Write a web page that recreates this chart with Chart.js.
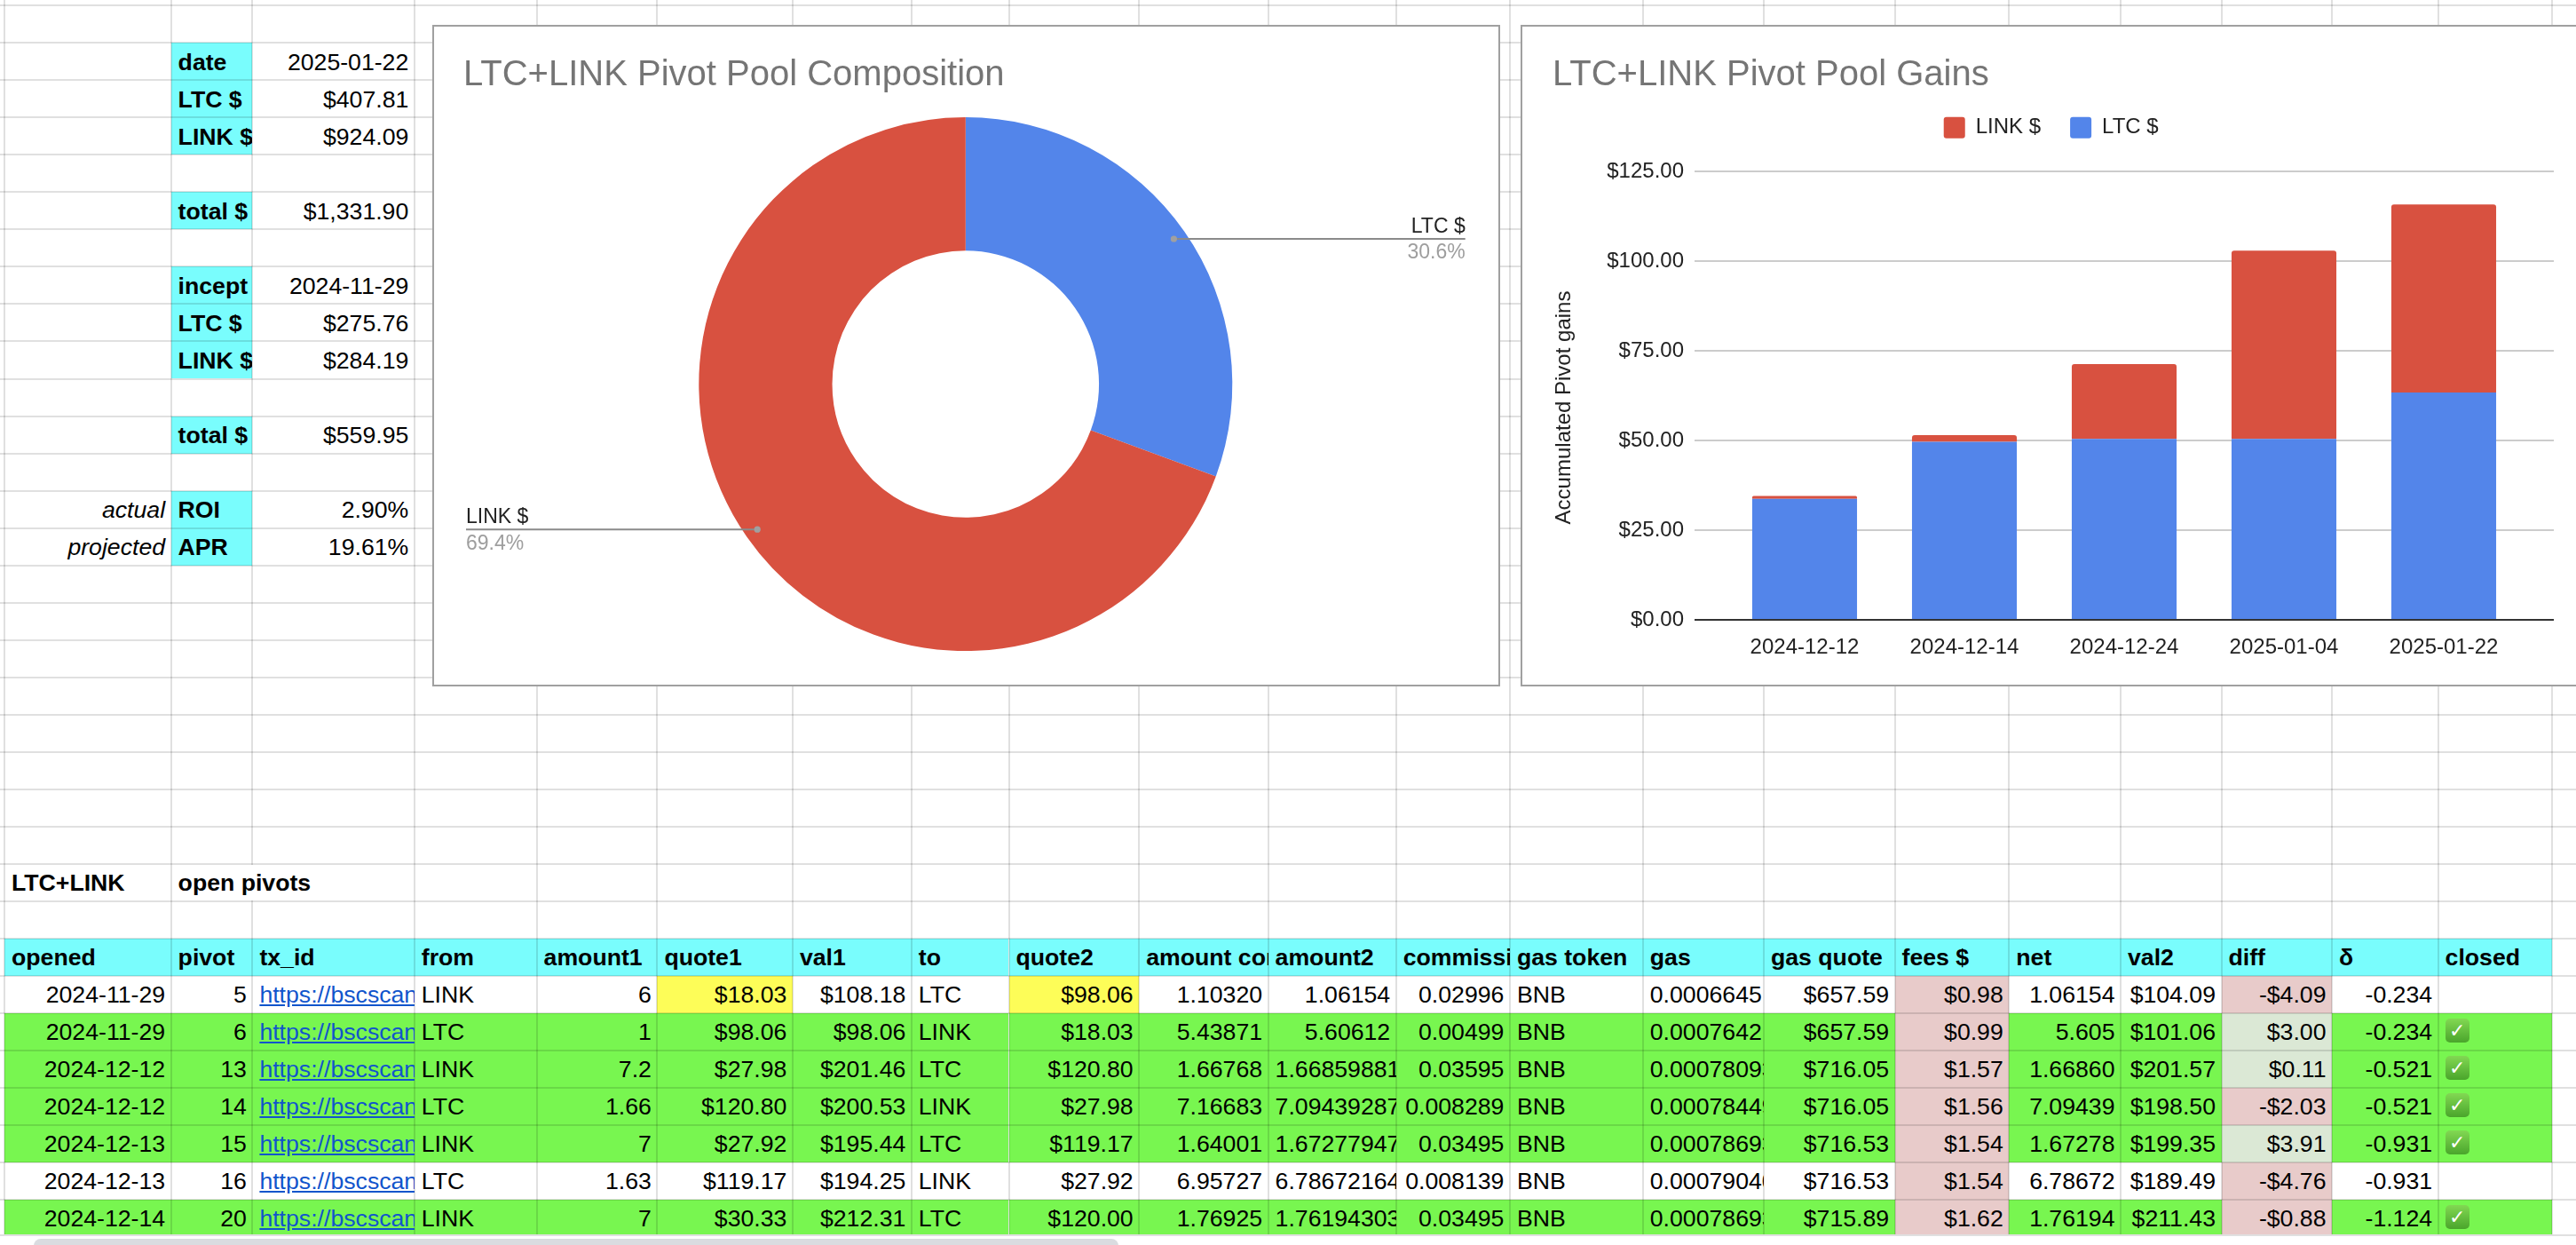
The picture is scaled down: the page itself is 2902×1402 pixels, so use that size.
<!DOCTYPE html>
<html>
<head>
<meta charset="utf-8">
<script src="https://cdn.jsdelivr.net/npm/chart.js@4.4.1/dist/chart.umd.min.js"></script>
<style>
html,body{margin:0;padding:0;background:#fff;overflow:hidden;width:2902px;height:1402px;}
#sheet{position:absolute;left:0;top:0;width:2902px;height:1402px;font-family:"Liberation Sans",Arial,sans-serif;font-size:26.67px;color:#000;}
.bg{position:absolute;}
.c{position:absolute;box-sizing:border-box;display:flex;align-items:flex-end;justify-content:flex-start;white-space:nowrap;padding:0 6.5px 7px 8px;line-height:26.67px;overflow:hidden;}
.c.r{justify-content:flex-end;}
.c.vis{overflow:visible;}
.b{font-weight:bold;}
.i{font-style:italic;}
.lnk{color:#1155cc;text-decoration:underline;}
.gl{position:absolute;background:rgba(0,0,0,0.12);}
.chk{display:inline-block;width:27px;height:27px;border-radius:5px;background:linear-gradient(#82d853,#4aa52b);color:#fff;font-family:"DejaVu Sans",sans-serif;font-size:22px;line-height:27px;text-align:center;font-weight:bold;margin-bottom:1px;}
.box{position:absolute;background:#fff;border:2px solid #a0a0a0;box-sizing:border-box;}
#bottomStrip{position:absolute;left:0;top:1390px;width:2902px;height:12px;background:#fff;border-top:2px solid #e0e0e0;box-sizing:border-box;}
#scroll{position:absolute;left:38px;top:3px;width:1222px;height:16px;border-radius:8px;background:#dadce0;}
</style>
</head>
<body>
<div id="sheet"></div>
<div class="box" id="pieBox" style="left:487px;top:28px;width:1203px;height:745px;">
  <canvas id="pieChart" width="1199" height="741"></canvas>
</div>
<div class="box" id="barBox" style="left:1713px;top:28px;width:1300px;height:745px;">
  <canvas id="barChart" width="1187" height="741"></canvas>
</div>
<div id="bottomStrip"><div id="scroll"></div></div>
<script>
// ---------------- chart data ----------------
const poolLabels = ['LTC $', 'LINK $'];
const poolValues = [407.81, 924.09];

const gainDates = ['2024-12-12', '2024-12-14', '2024-12-24', '2025-01-04', '2025-01-22'];
const ltcGains  = [33.8, 49.7, 50.5, 50.5, 63.4];
const linkGains = [0.8, 1.8, 20.8, 52.4, 52.4];
const gainTicks = [0, 25, 50, 75, 100, 125];

// ---------------- sheet content ----------------
const summaryRows = [
  [1, '', 'date', '2025-01-22'],
  [2, '', 'LTC $', '$407.81'],
  [3, '', 'LINK $', '$924.09'],
  [5, '', 'total $', '$1,331.90'],
  [7, '', 'incept', '2024-11-29'],
  [8, '', 'LTC $', '$275.76'],
  [9, '', 'LINK $', '$284.19'],
  [11, '', 'total $', '$559.95'],
  [13, 'actual', 'ROI', '2.90%'],
  [14, 'projected', 'APR', '19.61%']
];
const pivotHeaders = ['opened','pivot','tx_id','from','amount1','quote1','val1','to','quote2','amount conv','amount2','commission','gas token','gas','gas quote','fees $','net','val2','diff','δ','closed'];
const URL_TXT = 'https://bscscan.com/tx/';
const pivotRows = [
  ['2024-11-29','5',URL_TXT,'LINK','6','$18.03','$108.18','LTC','$98.06','1.10320','1.06154','0.02996','BNB','0.0006645','$657.59','$0.98','1.06154','$104.09','-$4.09','-0.234',''],
  ['2024-11-29','6',URL_TXT,'LTC','1','$98.06','$98.06','LINK','$18.03','5.43871','5.60612','0.00499','BNB','0.0007642','$657.59','$0.99','5.605','$101.06','$3.00','-0.234','✅'],
  ['2024-12-12','13',URL_TXT,'LINK','7.2','$27.98','$201.46','LTC','$120.80','1.66768','1.66859881','0.03595','BNB','0.00078093','$716.05','$1.57','1.66860','$201.57','$0.11','-0.521','✅'],
  ['2024-12-12','14',URL_TXT,'LTC','1.66','$120.80','$200.53','LINK','$27.98','7.16683','7.09439287','0.008289','BNB','0.00078449','$716.05','$1.56','7.09439','$198.50','-$2.03','-0.521','✅'],
  ['2024-12-13','15',URL_TXT,'LINK','7','$27.92','$195.44','LTC','$119.17','1.64001','1.67277947','0.03495','BNB','0.00078693','$716.53','$1.54','1.67278','$199.35','$3.91','-0.931','✅'],
  ['2024-12-13','16',URL_TXT,'LTC','1.63','$119.17','$194.25','LINK','$27.92','6.95727','6.78672164','0.008139','BNB','0.00079040','$716.53','$1.54','6.78672','$189.49','-$4.76','-0.931',''],
  ['2024-12-14','20',URL_TXT,'LINK','7','$30.33','$212.31','LTC','$120.00','1.76925','1.76194303','0.03495','BNB','0.00078693','$715.89','$1.62','1.76194','$211.43','-$0.88','-1.124','✅']
];
const textCols = [2, 3, 7, 12];

// ---------------- sheet layout ----------------
const COLX = [5,192.6,284.4,466.8,604.6,740.4,892.9,1026.8,1136.5,1283.2,1428.6,1572.7,1700.9,1850.8,1987,2134.6,2263.3,2389,2502.5,2627,2746.6,2875.3,3010];
const ROWH = 42.02;
const rowY = k => 6.3 + ROWH * k;
const CYAN = '#79fdfd', GREEN = '#78f650', YELLOW = '#fdfd58', PINK = '#e8cbca', PALEGREEN = '#dbe8d5';
const sheet = document.getElementById('sheet');

function bgCell(col, row, color) {
  const d = document.createElement('div');
  d.className = 'bg';
  d.style.left = COLX[col] + 'px';
  d.style.top = rowY(row) + 'px';
  d.style.width = (COLX[col + 1] - COLX[col]) + 'px';
  d.style.height = ROWH + 'px';
  d.style.background = color;
  sheet.appendChild(d);
}
const textCells = [];
function txtCell(col, row, text, cls) {
  textCells.push([col, row, text, cls || '']);
}

// summary block
summaryRows.forEach(([row, a, b, c]) => {
  bgCell(1, row, CYAN);
  if (a) txtCell(0, row, a, 'r i');
  txtCell(1, row, b, 'b');
  txtCell(2, row, c, 'r');
});
// pivots title
txtCell(0, 23, 'LTC+LINK', 'b');
txtCell(1, 23, 'open pivots', 'b vis');
// headers
pivotHeaders.forEach((h, i) => { bgCell(i, 25, CYAN); txtCell(i, 25, h, 'b'); });
// rows
pivotRows.forEach((r, ri) => {
  const row = 26 + ri;
  const closed = r[20] !== '';
  r.forEach((v, ci) => {
    let color = closed ? GREEN : null;
    if (ri === 0 && (ci === 5 || ci === 8)) color = YELLOW;
    if (ci === 15) color = PINK;
    if (ci === 18) color = v.startsWith('-') ? PINK : PALEGREEN;
    if (color) bgCell(ci, row, color);
    if (ci === 2) txtCell(ci, row, v, 'lnk');
    else if (ci === 20) txtCell(ci, row, v, 'chkcell');
    else txtCell(ci, row, v, textCols.includes(ci) ? '' : 'r');
  });
});

// gridlines
for (let i = 0; i < COLX.length; i++) {
  const d = document.createElement('div');
  d.className = 'gl';
  d.style.left = (COLX[i] - 1) + 'px'; d.style.top = '0px';
  d.style.width = '2px'; d.style.height = '1392px';
  sheet.appendChild(d);
}
for (let k = 0; k <= 33; k++) {
  const d = document.createElement('div');
  d.className = 'gl';
  d.style.left = '0px'; d.style.top = (rowY(k) - 1) + 'px';
  d.style.width = '2902px'; d.style.height = '2px';
  sheet.appendChild(d);
}
// overflow text hides gridline
(function(){
  const d = document.createElement('div');
  d.className = 'bg';
  d.style.left = (COLX[2] - 1.5) + 'px'; d.style.top = (rowY(23) + 1) + 'px';
  d.style.width = '3px'; d.style.height = (ROWH - 2) + 'px';
  d.style.background = '#fff';
  sheet.appendChild(d);
})();

// text
textCells.forEach(([col, row, text, cls]) => {
  const d = document.createElement('div');
  d.className = 'c ' + cls;
  d.style.left = COLX[col] + 'px';
  d.style.top = rowY(row) + 'px';
  d.style.width = (COLX[col + 1] - COLX[col]) + 'px';
  d.style.height = ROWH + 'px';
  if (cls === 'chkcell') {
    if (text) {
      const s = document.createElement('span');
      s.className = 'chk';
      s.textContent = '✓';
      s.title = text;
      d.style.paddingBottom = '7.5px';
      d.appendChild(s);
    }
  } else {
    const s = document.createElement('span');
    s.textContent = text;
    d.appendChild(s);
  }
  sheet.appendChild(d);
  if (cls.includes('r')) {
    const s = d.firstChild;
    if (s && s.offsetWidth > d.clientWidth - 14.5) d.classList.remove('r');
  }
});

// ---------------- charts ----------------
Chart.defaults.font.family = '"Liberation Sans", Arial, sans-serif';
Chart.defaults.color = '#222';

const FONT = '"Liberation Sans", Arial, sans-serif';

const callouts = {
  id: 'callouts',
  afterDatasetsDraw(chart) {
    const ctx = chart.ctx;
    const meta = chart.getDatasetMeta(0);
    const data = chart.data.datasets[0].data;
    const total = data.reduce((a, b) => a + b, 0);
    meta.data.forEach((arc, i) => {
      const p = arc.getProps(['x', 'y', 'startAngle', 'endAngle', 'outerRadius'], true);
      const mid = (p.startAngle + p.endAngle) / 2;
      const r = p.outerRadius - 14.5;
      const dx = p.x + Math.cos(mid) * r;
      const dy = p.y + Math.sin(mid) * r;
      const right = Math.cos(mid) >= 0;
      const ex = right ? chart.width - 37.3 : 36;
      ctx.save();
      ctx.strokeStyle = '#8a8a8a';
      ctx.lineWidth = 2;
      ctx.beginPath(); ctx.moveTo(dx, dy); ctx.lineTo(ex, dy); ctx.stroke();
      ctx.fillStyle = '#a0a0a0';
      ctx.beginPath(); ctx.arc(dx, dy, 3.6, 0, Math.PI * 2); ctx.fill();
      ctx.font = '23px ' + FONT;
      ctx.textAlign = right ? 'right' : 'left';
      ctx.textBaseline = 'alphabetic';
      ctx.fillStyle = '#222';
      ctx.fillText(chart.data.labels[i], ex, dy - 7);
      ctx.fillStyle = '#9e9e9e';
      ctx.fillText((data[i] / total * 100).toFixed(1) + '%', ex, dy + 22.4);
      ctx.restore();
    });
  }
};

new Chart(document.getElementById('pieChart'), {
  type: 'doughnut',
  data: {
    labels: poolLabels,
    datasets: [{ data: poolValues, backgroundColor: ['#5385ea', '#d85140'], borderWidth: 0 }]
  },
  options: {
    responsive: false,
    devicePixelRatio: 1,
    animation: false,
    cutout: '50%',
    layout: { padding: { left: 33, right: 34.4, top: 0, bottom: 37.9 } },
    plugins: {
      legend: { display: false },
      tooltip: { enabled: false },
      title: {
        display: true, text: 'LTC+LINK Pivot Pool Composition', align: 'start', color: '#757575',
        font: { family: FONT, size: 40, weight: 'normal', lineHeight: 1 },
        padding: { top: 34.7, bottom: 27.4 }
      }
    }
  },
  plugins: [callouts]
});

const extGrid = {
  id: 'extGrid',
  beforeDatasetsDraw(chart) {
    const { ctx, chartArea: a, scales: { y } } = chart;
    ctx.save();
    ctx.fillStyle = '#cccccc';
    y.ticks.forEach(t => {
      if (t.value === 0) return;
      const py = Math.round(y.getPixelForValue(t.value));
      ctx.fillRect(a.left - 34, py - 1, a.width + 68, 2);
    });
    ctx.restore();
  },
  afterDatasetsDraw(chart) {
    const { ctx, chartArea: a, scales: { y } } = chart;
    const py = Math.round(y.getPixelForValue(0));
    ctx.save();
    ctx.fillStyle = '#333333';
    ctx.fillRect(a.left - 34, py - 1, a.width + 68, 2);
    ctx.restore();
  }
};

new Chart(document.getElementById('barChart'), {
  type: 'bar',
  data: {
    labels: gainDates,
    datasets: [
      { label: 'LTC $', data: ltcGains, backgroundColor: '#5385ea', borderWidth: 0, barPercentage: 0.656, categoryPercentage: 1 },
      { label: 'LINK $', data: linkGains, backgroundColor: '#d85140', borderWidth: 0, barPercentage: 0.656, categoryPercentage: 1,
        borderRadius: { topLeft: 3, topRight: 3, bottomLeft: 0, bottomRight: 0 }, borderSkipped: false }
    ]
  },
  options: {
    responsive: false,
    devicePixelRatio: 1,
    animation: false,
    layout: { padding: { left: 34, right: 29.6, top: 0, bottom: 0 } },
    plugins: {
      tooltip: { enabled: false },
      title: {
        display: true, text: 'LTC+LINK Pivot Pool Gains', align: 'start', color: '#757575',
        font: { family: FONT, size: 40, weight: 'normal', lineHeight: 1 },
        padding: { top: 35.4, bottom: -6.7 }
      },
      legend: {
        display: true, position: 'top', align: 'center', reverse: true,
        labels: {
          boxWidth: 24, boxHeight: 24, padding: 33, color: '#222',
          useBorderRadius: true, borderRadius: 3,
          font: { family: FONT, size: 24 }
        }
      },
      subtitle: {
        display: true, text: ' ', weight: 500,
        font: { size: 1, lineHeight: 1 },
        padding: { top: 26.3, bottom: 0 }
      }
    },
    scales: {
      x: {
        stacked: true,
        grid: { display: false },
        border: { display: false },
        ticks: { color: '#222', font: { family: FONT, size: 24 }, padding: 9, maxRotation: 0 },
        afterFit: s => { s.height = 72.7; }
      },
      y: {
        stacked: true,
        min: gainTicks[0], max: gainTicks[gainTicks.length - 1],
        grid: { display: false, drawTicks: false },
        border: { display: false },
        afterBuildTicks: s => { s.ticks = gainTicks.map(v => ({ value: v })); },
        ticks: { color: '#222', font: { family: FONT, size: 24 }, padding: 46, callback: v => '$' + Number(v).toFixed(2) },
        title: { display: true, text: 'Accumulated Pivot gains    ', color: '#222', font: { family: FONT, size: 24, lineHeight: 1 }, padding: 1 },
        afterFit: s => { s.width = 194; }
      },
      y2: {
        position: 'right',
        grid: { display: false, drawTicks: false },
        border: { display: false },
        ticks: { display: false },
        afterFit: s => { s.width = 29.4; }
      }
    }
  },
  plugins: [extGrid]
});
</script>
</body>
</html>
